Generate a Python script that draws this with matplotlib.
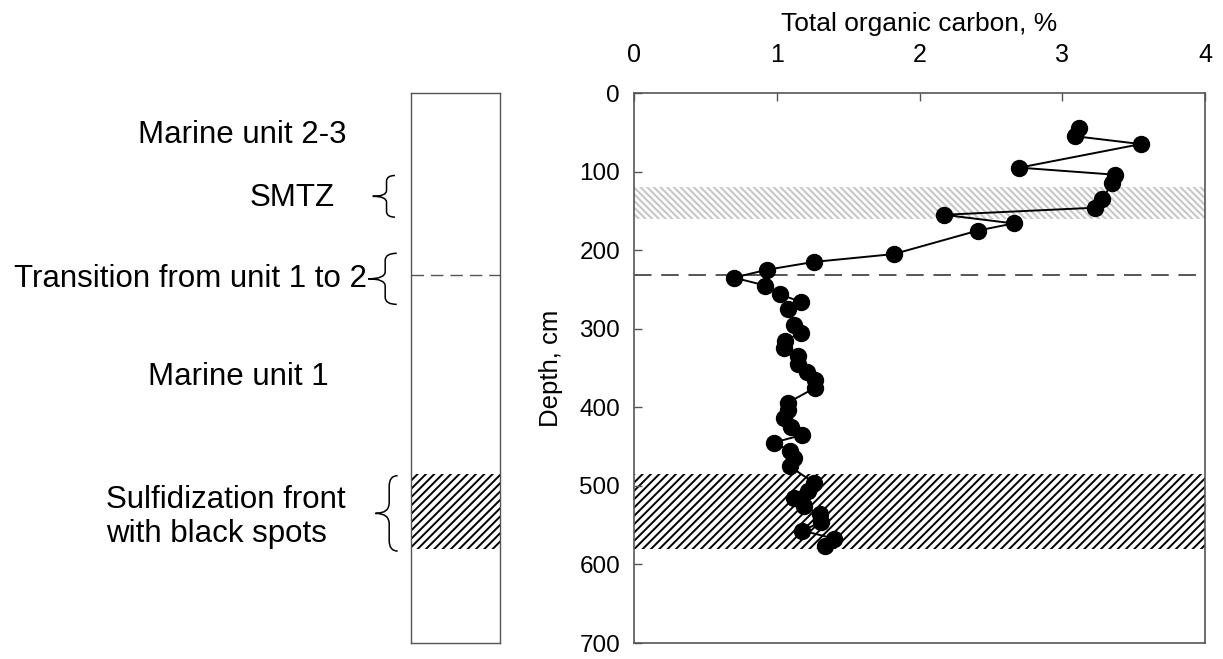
import matplotlib
matplotlib.use("Agg")
import matplotlib.pyplot as plt
import matplotlib.transforms as mtransforms
from matplotlib.path import Path
from matplotlib.patches import PathPatch

plt.rcParams["font.family"] = ["Liberation Sans", "DejaVu Sans"]
plt.rcParams["hatch.linewidth"] = 1.4

# TOC profile (depth in cm, total organic carbon in %)
depth = [44, 55, 65, 95, 104, 115, 135, 146, 155, 166, 175, 205, 215, 225,
         235, 245, 256, 266, 275, 295, 305, 315, 325, 335, 345, 355, 365,
         375, 394, 404, 414, 425, 435, 445, 455, 465, 475, 496, 506, 516,
         526, 536, 546, 557, 567, 577]
toc = [3.12, 3.09, 3.55, 2.70, 3.37, 3.35, 3.28, 3.23, 2.17, 2.66, 2.41,
       1.82, 1.26, 0.93, 0.70, 0.92, 1.02, 1.17, 1.08, 1.12, 1.17, 1.06,
       1.05, 1.15, 1.15, 1.21, 1.27, 1.27, 1.08, 1.08, 1.05, 1.10, 1.18,
       0.98, 1.09, 1.12, 1.09, 1.26, 1.22, 1.12, 1.19, 1.30, 1.31, 1.18,
       1.40, 1.34]

smtz_zone = (120, 160)
sulfide_zone = (485, 580)
transition_depth = 232

x_ticks = [0, 1, 2, 3, 4]
y_ticks = [0, 100, 200, 300, 400, 500, 600, 700]

# bracket ranges on the lithology column (depth, cm)
brace_smtz = (105, 158)
brace_transition = (204, 269)
brace_sulfide = (487, 583)

_SPINE = "#555555"
_DASH = (0, (9, 5))

W, H = 1223, 659
fig = plt.figure(figsize=(W / 100, H / 100), dpi=100)


def px(x, y):
    return x / W, 1 - y / H


def draw_brace(ax, y_top, y_bot, x_arm, x_tip):
    """Curly bracket '{' to the left of the column, x in axes fraction."""
    trans = mtransforms.blended_transform_factory(ax.transAxes, ax.transData)
    mid = (y_top + y_bot) / 2
    r = 0.14 * (y_bot - y_top)
    xm = (x_arm + x_tip) / 2 + 0.03
    verts = [(x_arm, y_top), (xm, y_top), (xm, y_top + r),
             (xm, mid - r), (xm, mid), (x_tip, mid),
             (xm, mid), (xm, mid + r),
             (xm, y_bot - r), (xm, y_bot), (x_arm, y_bot)]
    codes = [Path.MOVETO, Path.CURVE3, Path.CURVE3, Path.LINETO,
             Path.CURVE3, Path.CURVE3, Path.CURVE3, Path.CURVE3,
             Path.LINETO, Path.CURVE3, Path.CURVE3]
    ax.add_patch(PathPatch(Path(verts, codes), transform=trans,
                           facecolor="none", edgecolor="black",
                           linewidth=1.1, clip_on=False))


# lithology column
col = fig.add_axes([411 / W, 1 - 643 / H, 89 / W, 550 / H])
col.set_xlim(0, 1)
col.set_ylim(700, 0)
col.set_xticks([])
col.set_yticks([])
for s in col.spines.values():
    s.set_color(_SPINE)
    s.set_linewidth(1.0)
col.axhspan(*sulfide_zone, facecolor="none", edgecolor="black",
            hatch="////", linewidth=0)
col.axhline(transition_depth, color=_SPINE, linestyle=_DASH, linewidth=1.0)

draw_brace(col, *brace_smtz, -0.18, -0.43)
draw_brace(col, *brace_transition, -0.16, -0.48)
draw_brace(col, *brace_sulfide, -0.15, -0.40)

fs_left = 22.5
fig.text(*px(242, 135), "Marine unit 2-3", fontsize=fs_left,
         ha="center", va="center")
fig.text(*px(292, 198), "SMTZ", fontsize=fs_left, ha="center", va="center")
fig.text(*px(367, 279), "Transition from unit 1 to 2", fontsize=fs_left,
         ha="right", va="center")
fig.text(*px(238, 377), "Marine unit 1", fontsize=fs_left,
         ha="center", va="center")
fig.text(*px(106, 517), "Sulfidization front\nwith black spots",
         fontsize=fs_left, ha="left", va="center", linespacing=1.2)

# TOC profile
ax = fig.add_axes([634 / W, 1 - 643 / H, 571 / W, 550 / H])
ax.axhspan(*smtz_zone, facecolor="none", edgecolor="#c4c4c4",
           hatch="\\\\\\\\\\", linewidth=0, zorder=1)
ax.axhspan(*sulfide_zone, facecolor="none", edgecolor="black",
           hatch="////", linewidth=0, zorder=1)
ax.axhline(transition_depth, color=_SPINE, linestyle=_DASH,
           linewidth=1.4, zorder=2)
ax.plot(toc, depth, color="black", linewidth=1.4, marker="o",
        markersize=11.5, markerfacecolor="black", markeredgecolor="black",
        zorder=3)

ax.set_xlim(0, 4)
ax.set_ylim(700, 0)
ax.set_xticks(x_ticks)
ax.set_yticks(y_ticks)
ax.xaxis.tick_top()
ax.xaxis.set_label_position("top")
ax.tick_params(axis="x", direction="in", length=6, width=1.0,
               color=_SPINE, labelsize=18, pad=19)
ax.tick_params(axis="y", direction="in", length=6, width=1.0,
               color=_SPINE, labelsize=17.5, pad=10)
ax.set_xlabel("Total organic carbon, %", fontsize=19, labelpad=8)
ax.set_ylabel("Depth, cm", fontsize=18.5, labelpad=12)
for s in ax.spines.values():
    s.set_color(_SPINE)
    s.set_linewidth(1.2)

fig.savefig("out.png", dpi=100)
